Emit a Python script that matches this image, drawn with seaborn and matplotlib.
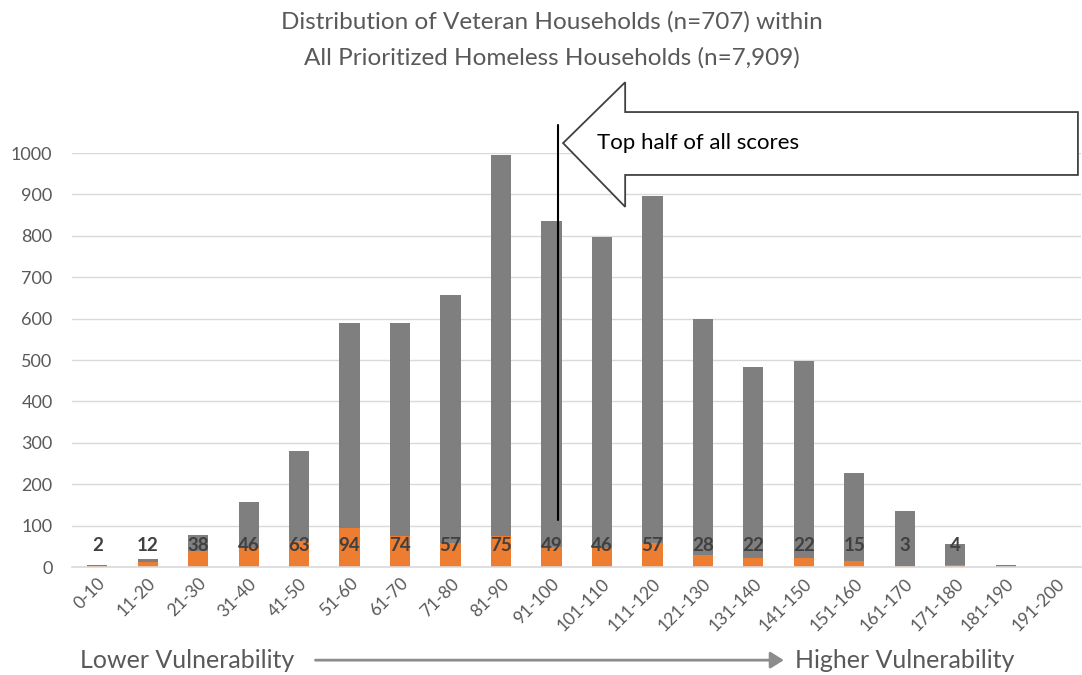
import matplotlib
matplotlib.use("Agg")
import matplotlib.pyplot as plt
from matplotlib.patches import Polygon, FancyArrowPatch
import seaborn as sns
import pandas as pd

# Score bands of the prioritization tool
score_bands = ["0-10", "11-20", "21-30", "31-40", "41-50", "51-60", "61-70",
               "71-80", "81-90", "91-100", "101-110", "111-120", "121-130",
               "131-140", "141-150", "151-160", "161-170", "171-180",
               "181-190", "191-200"]

# All prioritized homeless households per band (n=7,909)
all_households = [5, 20, 78, 158, 280, 590, 590, 658, 995, 835, 798, 895,
                  598, 482, 498, 228, 135, 55, 5, 0]

# Veteran households per band (n=707)
veteran_households = [2, 12, 38, 46, 63, 94, 74, 57, 75, 49, 46, 57, 28, 22,
                      22, 15, 3, 4, 0, 0]

yticks = list(range(0, 1001, 100))

df = pd.DataFrame({"band": score_bands, "all": all_households,
                   "veteran": veteran_households})

sns.set_theme(style="white")
plt.rcParams["font.family"] = ["Lato", "DejaVu Sans"]

TEXT = "#595959"
GRID = "#d9d9d9"

fig = plt.figure(figsize=(10.82, 6.75), dpi=100)
ax = fig.add_axes([0.0665, 0.16, 0.933, 0.6133])

sns.barplot(data=df, x="band", y="all", color="#7f7f7f", saturation=1,
            width=0.4, linewidth=0, ax=ax, order=score_bands)
sns.barplot(data=df, x="band", y="veteran", color="#ed7d31", saturation=1,
            width=0.4, linewidth=0, ax=ax, order=score_bands)

ax.set_xlim(-0.5, len(score_bands) - 0.5)
ax.set_ylim(0, 1000)
ax.set_yticks(yticks)
ax.set_xlabel("")
ax.set_ylabel("")
ax.yaxis.grid(True, color=GRID, linewidth=1)
ax.set_axisbelow(True)
for side in ["top", "right", "left"]:
    ax.spines[side].set_visible(False)
ax.spines["bottom"].set_color(GRID)
ax.spines["bottom"].set_linewidth(1.2)

ax.tick_params(axis="y", length=0, labelsize=13, labelcolor=TEXT, pad=14)
ax.set_xticks(range(len(score_bands)))
ax.set_xticklabels(score_bands, rotation=45, ha="right",
                   rotation_mode="anchor", fontsize=12.5, color=TEXT)
# Tick marks sit between categories
ax.set_xticks([i - 0.5 for i in range(len(score_bands) + 1)], minor=True)
ax.tick_params(axis="x", which="major", length=0, pad=6)
ax.tick_params(axis="x", which="minor", length=6, color=GRID, width=1)

# Veteran counts as data labels
for i, v in enumerate(veteran_households):
    if v > 0:
        ax.text(i, 52, str(v), ha="center", va="center", fontsize=13.5,
                fontweight="bold", color="#404040")

# Median marker line
median_pos = score_bands.index("91-100") + 0.13
ax.plot([median_pos, median_pos], [113, 1068], color="black", lw=1.5,
        clip_on=False, zorder=5)

# Block arrow callout pointing left
arrow_pts = [(9.23, 1024), (10.46, 1171), (10.46, 1099), (19.43, 1099),
             (19.43, 947), (10.46, 947), (10.46, 870)]
ax.add_patch(Polygon(arrow_pts, closed=True, facecolor="white",
                     edgecolor="#404040", lw=1.3, clip_on=False, zorder=6))
ax.text(9.9, 1024, "Top half of all scores", ha="left", va="center",
        fontsize=16, color="black", zorder=7)

# Title
fig.text(0.51, 0.967, "Distribution of Veteran Households (n=707) within",
         ha="center", va="center", fontsize=17.5, color=TEXT)
fig.text(0.51, 0.914, "All Prioritized Homeless Households (n=7,909)",
         ha="center", va="center", fontsize=17.5, color=TEXT)

# Vulnerability direction
fig.text(0.074, 0.022, "Lower Vulnerability", ha="left", va="center",
         fontsize=18, color=TEXT)
fig.text(0.735, 0.022, "Higher Vulnerability", ha="left", va="center",
         fontsize=18, color=TEXT)
fig.patches.append(FancyArrowPatch((0.289, 0.022), (0.727, 0.022),
                                   transform=fig.transFigure,
                                   arrowstyle="-|>,head_length=8,head_width=5",
                                   color="#8c8c8c", lw=2))

fig.savefig("out.png", dpi=100)
